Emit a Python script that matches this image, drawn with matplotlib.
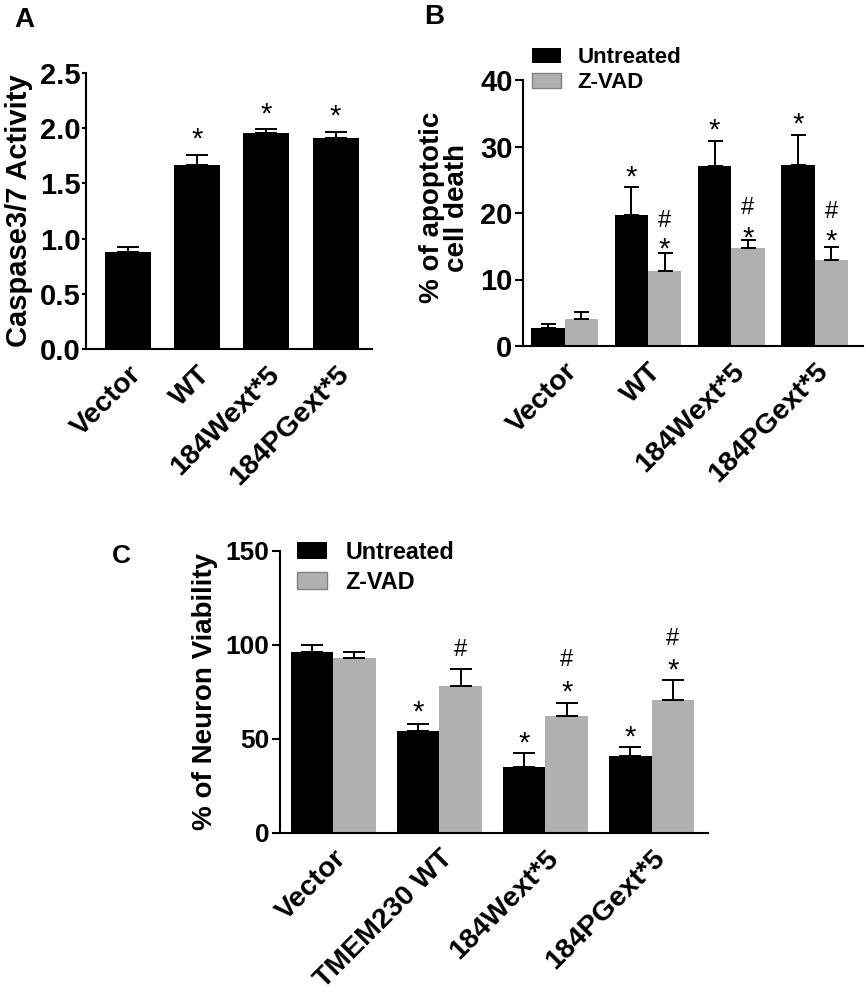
import numpy as np
import matplotlib as mpl
mpl.use('Agg')
import matplotlib.pyplot as plt

plt.rcParams['font.family'] = 'Liberation Sans'
plt.rcParams['font.weight'] = 'bold'
plt.rcParams['axes.labelweight'] = 'bold'
plt.rcParams['axes.linewidth'] = 1.5

# ---- data ----
# panel A
a_labels = ['Vector', 'WT', '184Wext*5', '184PGext*5']
a_mean = [0.88, 1.67, 1.96, 1.91]
a_err = [0.04, 0.09, 0.035, 0.06]
a_star = [None, 1.98, 2.20, 2.19]

# panel B
b_labels = ['Vector', 'WT', '184Wext*5', '184PGext*5']
b_untr = [2.7, 19.7, 27.1, 27.2]
b_untr_err = [0.6, 4.2, 3.7, 4.5]
b_zvad = [4.1, 11.3, 14.7, 13.0]
b_zvad_err = [1.0, 2.7, 1.2, 1.9]
b_untr_star = [None, 26.7, 33.7, 34.6]
b_zvad_star = [None, 15.9, 17.5, 17.0]
b_zvad_hash = [None, 19.1, 21.0, 20.5]

# panel C
c_labels = ['Vector', 'TMEM230 WT', '184Wext*5', '184PGext*5']
c_untr = [96.1, 54.0, 34.9, 41.0]
c_untr_err = [3.9, 4.0, 7.5, 4.6]
c_zvad = [92.9, 78.2, 62.1, 70.7]
c_zvad_err = [3.5, 9.0, 7.2, 10.7]
c_untr_star = [None, 68.8, 52.3, 55.7]
c_zvad_star = [None, None, 79.6, 91.2]
c_zvad_hash = [None, 98.2, 92.9, 104.1]

black = 'black'
gray = '#b0b0b0'


def mark(ax, x, y, s):
    # put the ink centre of the symbol at y
    if s == '*':
        fs, c = 21, 0.58
    else:
        fs, c = 17, 0.34
    ax.annotate(s, (x, y), xytext=(0, -c * fs), textcoords='offset points',
                ha='center', va='baseline', fontsize=fs, fontweight='normal',
                annotation_clip=False)


def style(ax, labels, ticklen=5.5, tickpad=2):
    ax.spines['top'].set_visible(False)
    ax.spines['right'].set_visible(False)
    ax.tick_params(axis='y', direction='out', length=ticklen, width=1.5, labelsize=21, pad=tickpad)
    ax.tick_params(axis='x', length=0, pad=9, labelsize=20.5)
    ax.set_xticks(np.arange(len(labels)))
    ax.set_xticklabels(labels, rotation=45, ha='right', va='top', rotation_mode='anchor')


fig = plt.figure(figsize=(8.66, 10), dpi=100, facecolor='white')

# ---- A ----
axA = fig.add_axes([0.0993, 0.651, 0.3303, 0.276])
x = np.arange(len(a_labels))
axA.bar(x, a_mean, width=0.665, color=black)
axA.errorbar(x, a_mean, yerr=[np.zeros(len(a_err)), a_err], fmt='none',
             ecolor=black, elinewidth=1.4, capsize=8, capthick=1.4)
for i, v in enumerate(a_star):
    if v is not None:
        mark(axA, x[i], v, '*')
axA.set_ylim(0, 2.5)
axA.set_yticks(np.arange(0, 2.51, 0.5))
axA.yaxis.set_major_formatter(mpl.ticker.FormatStrFormatter('%.1f'))
axA.set_xlim(-0.607, 3.527)
style(axA, a_labels, ticklen=3, tickpad=1)
axA.set_ylabel('Caspase3/7 Activity', fontsize=21)
axA.yaxis.set_label_coords(-0.185, 0.5)

# ---- B ----
axB = fig.add_axes([0.6039, 0.654, 0.3926, 0.266])
x = np.arange(len(b_labels))
w = 0.4
axB.bar(x - w / 2, b_untr, width=w, color=black, label='Untreated')
axB.bar(x + w / 2, b_zvad, width=w, color=gray, linewidth=0, label='Z-VAD')
axB.errorbar(x - w / 2, b_untr, yerr=[np.zeros(4), b_untr_err], fmt='none',
             ecolor=black, elinewidth=1.4, capsize=5.4, capthick=1.4)
axB.errorbar(x + w / 2, b_zvad, yerr=[np.zeros(4), b_zvad_err], fmt='none',
             ecolor=black, elinewidth=1.4, capsize=5.4, capthick=1.4)
for i in range(4):
    if b_untr_star[i] is not None:
        mark(axB, x[i] - w / 2, b_untr_star[i], '*')
    if b_zvad_star[i] is not None:
        mark(axB, x[i] + w / 2, b_zvad_star[i], '*')
    if b_zvad_hash[i] is not None:
        mark(axB, x[i] + w / 2, b_zvad_hash[i], '#')
axB.set_ylim(0, 40)
axB.set_yticks([0, 10, 20, 30, 40])
axB.set_xlim(-0.5, 3.58)
style(axB, b_labels)
axB.set_ylabel('% of apoptotic\ncell death', fontsize=20, linespacing=0.95)
axB.yaxis.set_label_coords(-0.156, 0.52)
legB = axB.legend(loc='upper left', bbox_to_anchor=(0.026, 1.124), frameon=False,
                  fontsize=16, handlelength=1.32, handleheight=0.64,
                  handletextpad=0.73, labelspacing=0.2, borderpad=0, borderaxespad=0)
legB.legend_handles[1].set_edgecolor('#808080')
legB.legend_handles[1].set_linewidth(1)

# ---- C ----
axC = fig.add_axes([0.3233, 0.167, 0.4942, 0.282])
x = np.arange(len(c_labels))
axC.bar(x - w / 2, c_untr, width=w, color=black, label='Untreated')
axC.bar(x + w / 2, c_zvad, width=w, color=gray, linewidth=0, label='Z-VAD')
axC.errorbar(x - w / 2, c_untr, yerr=[np.zeros(4), c_untr_err], fmt='none',
             ecolor=black, elinewidth=1.4, capsize=8, capthick=1.4)
axC.errorbar(x + w / 2, c_zvad, yerr=[np.zeros(4), c_zvad_err], fmt='none',
             ecolor=black, elinewidth=1.4, capsize=8, capthick=1.4)
for i in range(4):
    if c_untr_star[i] is not None:
        mark(axC, x[i] - w / 2, c_untr_star[i], '*')
    if c_zvad_star[i] is not None:
        mark(axC, x[i] + w / 2, c_zvad_star[i], '*')
    if c_zvad_hash[i] is not None:
        mark(axC, x[i] + w / 2, c_zvad_hash[i], '#')
axC.set_ylim(0, 150)
axC.set_yticks([0, 50, 100, 150])
axC.set_xlim(-0.5, 3.53)
style(axC, c_labels)
axC.tick_params(axis='y', labelsize=19)
axC.set_ylabel('% of Neuron Viability', fontsize=20)
axC.yaxis.set_label_coords(-0.145, 0.5)
legC = axC.legend(loc='upper left', bbox_to_anchor=(0.040, 1.037), frameon=False,
                  fontsize=16.8, handlelength=1.3, handleheight=0.7,
                  handletextpad=0.78, labelspacing=0.3, borderpad=0, borderaxespad=0)
legC.legend_handles[1].set_edgecolor('#808080')
legC.legend_handles[1].set_linewidth(1)

# panel letters
fig.text(0.016, 0.993, 'A', fontsize=20, va='top', ha='left')
fig.text(0.490, 0.996, 'B', fontsize=20, va='top', ha='left')
fig.text(0.129, 0.456, 'C', fontsize=19, va='top', ha='left')

fig.savefig('out.png', dpi=100, facecolor='white')
